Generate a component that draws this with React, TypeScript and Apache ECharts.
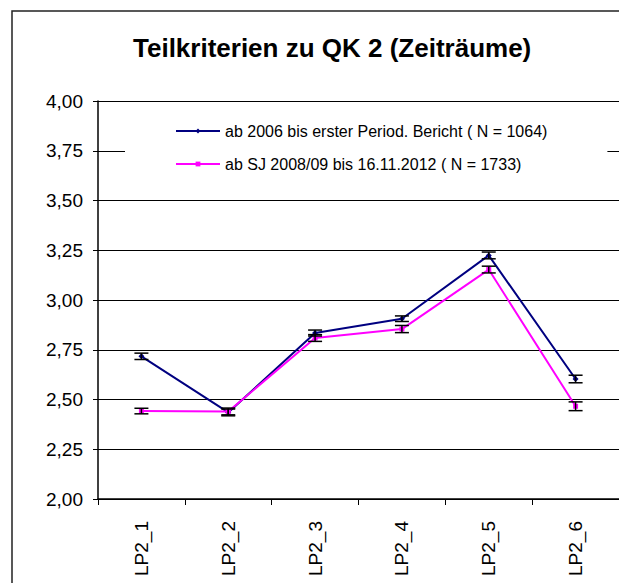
import React, { useEffect, useRef } from "react";
import * as echarts from "echarts";

const categories = ["LP2_1", "LP2_2", "LP2_3", "LP2_4", "LP2_5", "LP2_6"];
const seriesNames = [
  "ab 2006 bis erster Period. Bericht ( N = 1064)",
  "ab SJ 2008/09 bis 16.11.2012 ( N = 1733)",
];
const meansA = [2.717, 2.435, 2.834, 2.906, 3.224, 2.603];
const errA = [0.016, 0.017, 0.015, 0.014, 0.017, 0.019];
const meansB = [2.442, 2.44, 2.809, 2.854, 3.153, 2.466];
const errB = [0.014, 0.017, 0.017, 0.018, 0.017, 0.022];
const titleText = "Teilkriterien zu QK 2 (Zeiträume)";

const FONT = "'Liberation Sans', Arial, sans-serif";

function errorData(means: number[], errs: number[]) {
  return means.map((m, i) => [i, m - errs[i], m + errs[i]]);
}

function renderErr(params: any, api: any) {
  const x = api.value(0);
  const lo = api.coord([x, api.value(1)]);
  const hi = api.coord([x, api.value(2)]);
  const half = 7;
  const style = { stroke: "#000", lineWidth: 1.5 };
  return {
    type: "group",
    children: [
      { type: "line", shape: { x1: lo[0], y1: lo[1], x2: hi[0], y2: hi[1] }, style },
      { type: "line", shape: { x1: lo[0] - half, y1: lo[1], x2: lo[0] + half, y2: lo[1] }, style },
      { type: "line", shape: { x1: hi[0] - half, y1: hi[1], x2: hi[0] + half, y2: hi[1] }, style },
    ],
  };
}

export default function App() {
  const ref = useRef<HTMLDivElement>(null);
  useEffect(() => {
    document.body.style.margin = "0";
    const chart = echarts.init(ref.current!, null, { renderer: "svg" });
    chart.setOption({
      animation: false,
      backgroundColor: "#fff",
      textStyle: { fontFamily: FONT },
      title: {
        text: titleText,
        left: 133,
        top: 35,
        padding: 0,
        textStyle: { fontFamily: FONT, fontSize: 26, fontWeight: "bold", color: "#000" },
      },
      graphic: [
        {
          type: "rect",
          shape: { x: 12, y: 11, width: 700, height: 700 },
          style: { fill: "none", stroke: "#222", lineWidth: 1.5 },
          z: 100,
        },
      ],
      legend: {
        orient: "vertical",
        left: 125,
        top: 115,
        padding: [8, 60, 8, 50],
        backgroundColor: "#fff",
        itemWidth: 44,
        itemHeight: 6,
        itemGap: 17,
        z: 5,
        textStyle: { fontFamily: FONT, fontSize: 16, color: "#000", lineHeight: 16 },
        data: seriesNames,
      },
      grid: { left: 98, right: -5, top: 101, bottom: 84 },
      xAxis: {
        type: "category",
        data: categories,
        boundaryGap: true,
        axisLine: { lineStyle: { color: "#000", width: 1.5 } },
        axisTick: { show: true, length: 6, alignWithLabel: false, lineStyle: { color: "#000" } },
        axisLabel: { rotate: 90, fontSize: 19, color: "#000", margin: 22, fontFamily: FONT },
        splitLine: { show: false },
      },
      yAxis: {
        type: "value",
        min: 2,
        max: 4,
        interval: 0.25,
        axisLine: { show: true, lineStyle: { color: "#000", width: 1.5 } },
        axisTick: { show: true, length: 5, lineStyle: { color: "#000" } },
        axisLabel: {
          fontSize: 19,
          color: "#000",
          margin: 15,
          fontFamily: FONT,
          formatter: (v: number) => v.toFixed(2).replace(".", ","),
        },
        splitLine: { show: true, lineStyle: { color: "#000", width: 1 } },
      },
      series: [
        {
          name: seriesNames[0],
          type: "line",
          data: meansA,
          symbol: "diamond",
          symbolSize: 6,
          lineStyle: { color: "#000080", width: 2 },
          itemStyle: { color: "#000080" },
          z: 3,
        },
        {
          name: seriesNames[1],
          type: "line",
          data: meansB,
          symbol: "rect",
          symbolSize: 5,
          lineStyle: { color: "#ff00ff", width: 2 },
          itemStyle: { color: "#ff00ff" },
          z: 3,
        },
        {
          type: "custom",
          data: errorData(meansA, errA),
          renderItem: renderErr,
          z: 4,
          silent: true,
        },
        {
          type: "custom",
          data: errorData(meansB, errB),
          renderItem: renderErr,
          z: 4,
          silent: true,
        },
      ],
    });
    return () => chart.dispose();
  }, []);
  return <div ref={ref} style={{ width: 619, height: 583 }} />;
}
